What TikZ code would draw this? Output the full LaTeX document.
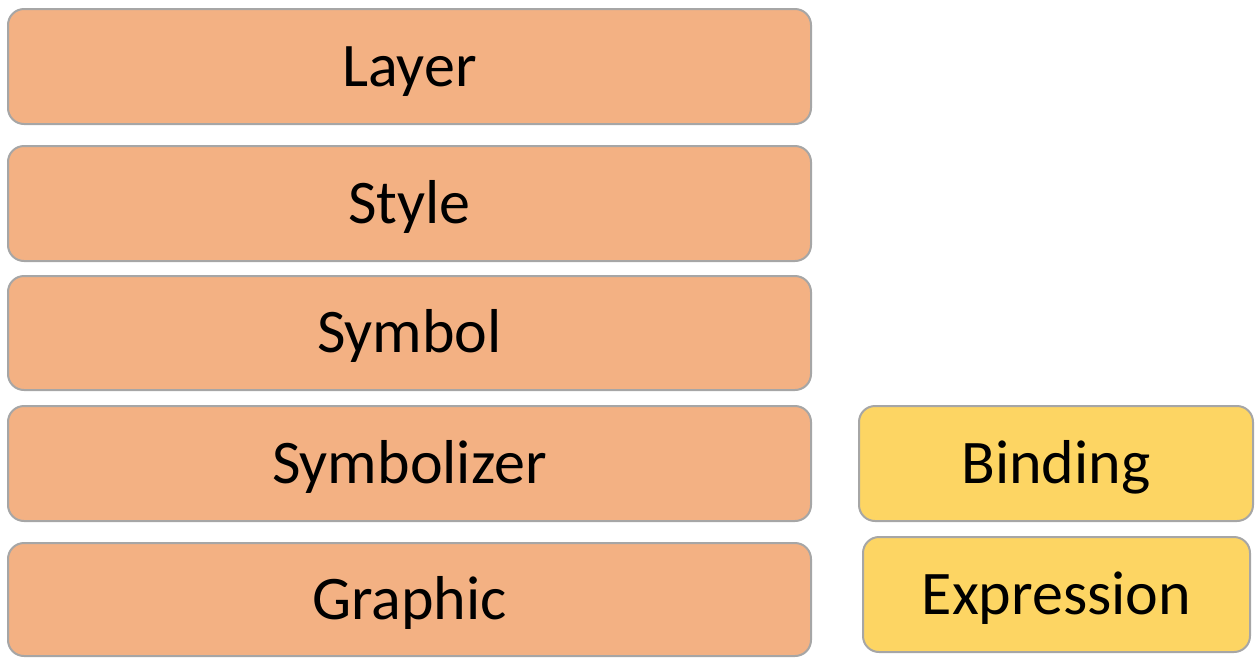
\documentclass[tikz,border=0pt]{standalone}
\usepackage{fontspec}
\setmainfont{Carlito}
\definecolor{boxorange}{HTML}{F3B183}
\definecolor{boxyellow}{HTML}{FDD563}
\definecolor{boxedge}{HTML}{A6A6A6}
\begin{document}
\begin{tikzpicture}[x=1pt,y=-1pt,
  layerbox/.style={draw=boxedge,line width=2pt,rounded corners=16pt,fill=boxorange},
  sidebox/.style={draw=boxedge,line width=2pt,rounded corners=16pt,fill=boxyellow},
  boxlabel/.style={anchor=base,inner sep=0pt,font=\fontsize{62}{66}\selectfont,text=black}]
\useasboundingbox (0,0) rectangle (1255,657);
% stacked model layers
\draw[layerbox] (8,9) rectangle (811,124);
\node[boxlabel] (layer) at (409.5,86) {Layer};
\draw[layerbox] (8,146) rectangle (811,261);
\node[boxlabel] (style) at (409.5,223) {Style};
\draw[layerbox] (8,276) rectangle (811,390);
\node[boxlabel] (symbol) at (409.5,352.5) {Symbol};
\draw[layerbox] (8,406) rectangle (811,521);
\node[boxlabel] (symbolizer) at (409.5,483) {Symbolizer};
\draw[layerbox] (8,543) rectangle (811,656);
\node[boxlabel] (graphic) at (409.5,619) {Graphic};
% side boxes
\draw[sidebox] (859,406) rectangle (1253,521);
\node[boxlabel] (binding) at (1056,483) {Binding};
\draw[sidebox] (863,537) rectangle (1250,652);
\node[boxlabel] (expression) at (1056.5,614) {Expression};
\end{tikzpicture}
\end{document}
